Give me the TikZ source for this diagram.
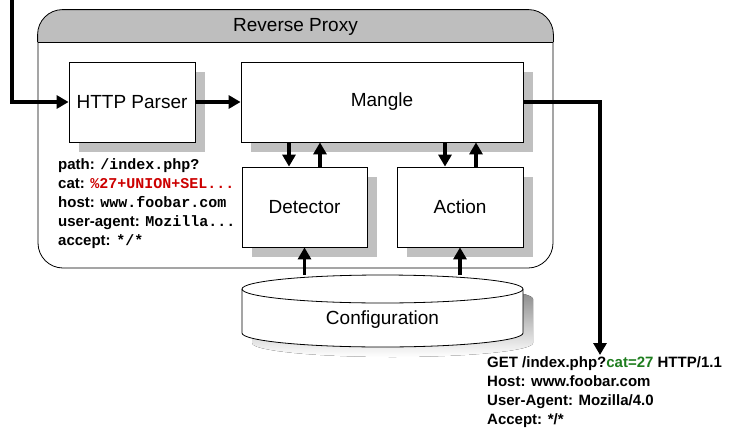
\documentclass[tikz,border=0pt]{standalone}
\usepackage{fontspec}
\setmainfont{Liberation Sans}
\newfontfamily\codefont{Liberation Mono}
\usetikzlibrary{arrows.meta,shadows}
\definecolor{shade}{RGB}{192,192,192}
\definecolor{headgray}{RGB}{190,190,190}
\definecolor{attack}{RGB}{204,0,0}
\definecolor{clean}{RGB}{30,125,30}

\begin{document}
\begin{tikzpicture}[
    x=1pt,y=-1pt,
    box/.style={draw,fill=white,line width=0.8pt,inner sep=0pt,minimum height=80pt,font=\fontsize{19}{23}\selectfont,
                drop shadow={shadow xshift=10pt,shadow yshift=-10pt,fill=shade,opacity=1}},
    frame/.style={draw,line width=0.8pt,rounded corners=25pt},
    flow/.style={->,line width=3.8pt},
    headers/.style={anchor=north west,align=left,inner sep=0pt,font=\fontsize{15}{19}\selectfont\bfseries},
    >={Triangle[length=12pt,width=13pt]}
]
\useasboundingbox (0,0) rectangle (730,431);

% reverse proxy frame
\node[frame,minimum width=515pt,minimum height=258pt] (proxy) at (295.5,139) {};
\coordinate (split) at (0,42);
\filldraw[fill=headgray,line width=0.8pt,rounded corners=25pt] (proxy.west |- split) -- (proxy.north west) -- (proxy.north east) -- (proxy.east |- split);
\draw[line width=0.8pt] (proxy.west |- split) -- (proxy.east |- split);
\node[font=\fontsize{19}{23}\selectfont] (title) at (295.5,27) {Reverse Proxy};

\node[box,minimum width=126pt] (parser) at (132,102) {HTTP Parser};
\node[box,minimum width=282pt] (mangle) at (382,102) {Mangle};
\node[box,minimum width=125pt] (det) at (304.5,207) {Detector};
\node[box,minimum width=126pt] (act) at (460,207) {Action};

% configuration store
\fill[shade] (252,299) -- (252,343) arc[start angle=180,end angle=360,x radius=140.5pt,y radius=14pt]
    -- (533,299) arc[start angle=0,end angle=180,x radius=140.5pt,y radius=14pt] -- cycle;
\filldraw[fill=white,line width=0.8pt] (242,289) -- (242,333) arc[start angle=180,end angle=360,x radius=140.5pt,y radius=14pt]
    -- (523,289) arc[start angle=0,end angle=180,x radius=140.5pt,y radius=14pt] -- cycle;
\draw[line width=0.8pt] (242,289) arc[start angle=180,end angle=360,x radius=140.5pt,y radius=14pt];
\node[font=\fontsize{19}{23}\selectfont] (cfg) at (382.5,320) {Configuration};
\coordinate (cfgtop) at (382.5,275);

% parsed request fields
\node[headers] (fields) at (58,158) {path: {\codefont /index.php?}\\
    cat: {\codefont\color{attack}\%27+UNION+SEL...}\\
    host: {\codefont www.foobar.com}\\
    user-agent: {\codefont Mozilla...}\\
    accept: {\codefont */*}};

% rewritten request
\node[headers] (req) at (487,356) {GET /index.php?{\color{clean}cat=27} HTTP/1.1\\
    Host: www.foobar.com\\
    User-Agent: Mozilla/4.0\\
    Accept: */*};

\coordinate (in) at (12,0);
\coordinate (out) at (600,355);
\draw[flow] (in) |- (parser.west);
\draw[flow] (parser) -- (mangle);
\draw[flow] (mangle.east) -| (out);
\draw[flow] ([xshift=-15.5pt]det.north |- mangle.south) -- ([xshift=-15.5pt]det.north);
\draw[flow] ([xshift=15.5pt]det.north) -- ([xshift=15.5pt]det.north |- mangle.south);
\draw[flow] ([xshift=-15pt]act.north |- mangle.south) -- ([xshift=-15pt]act.north);
\draw[flow] ([xshift=16pt]act.north) -- ([xshift=16pt]act.north |- mangle.south);
\draw[flow] (det.south |- cfgtop) -- (det.south);
\draw[flow] (act.south |- cfgtop) -- (act.south);
\end{tikzpicture}
\end{document}
